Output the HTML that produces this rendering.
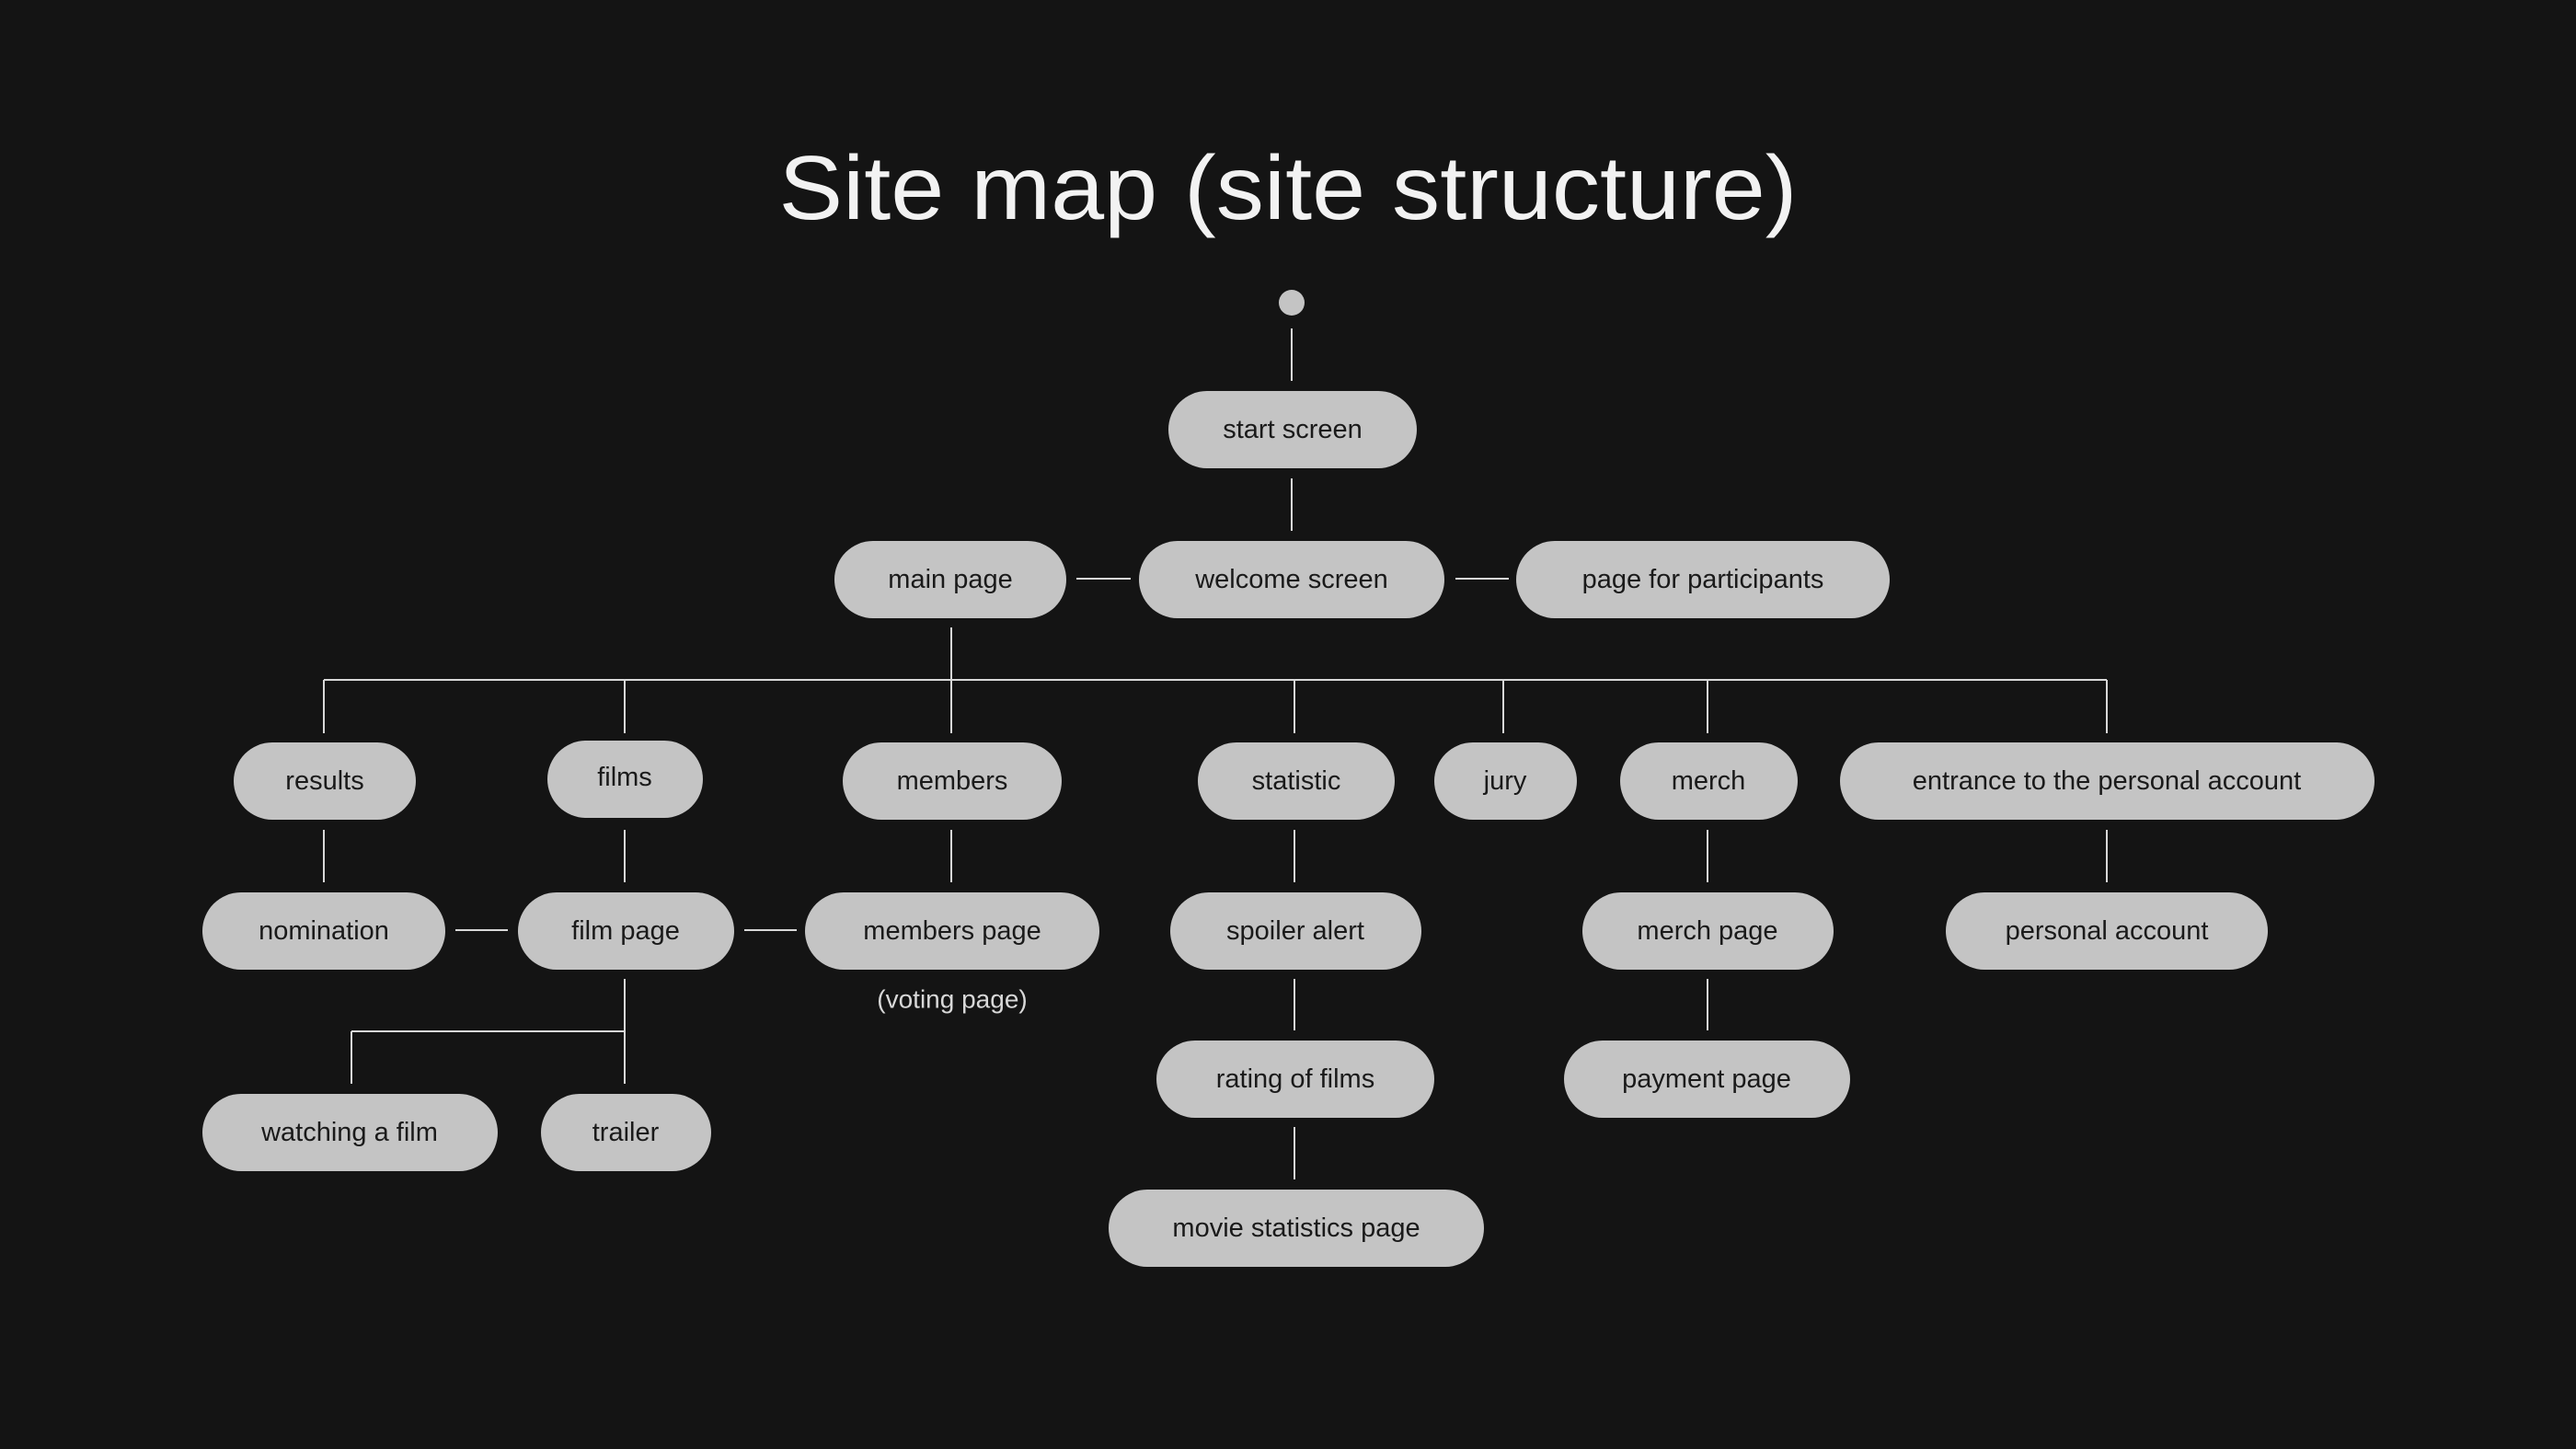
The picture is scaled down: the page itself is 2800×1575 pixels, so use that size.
<!DOCTYPE html>
<html><head><meta charset="utf-8"><style>
html,body{margin:0;padding:0;background:#141414;}
svg{display:block}
text{font-family:"Liberation Sans",sans-serif;}
.n{fill:#c4c4c4}
.t{font-size:29px;fill:#1a1a1a;text-anchor:middle;dominant-baseline:central}
.l{stroke:#d8d8d8;stroke-width:2;fill:none}
</style></head><body>
<svg width="2800" height="1575" viewBox="0 0 2800 1575" xmlns="http://www.w3.org/2000/svg">
<rect width="2800" height="1575" fill="#141414"/>
<text x="1400" y="238" text-anchor="middle" font-size="98" fill="#f2f2f2" textLength="1107" lengthAdjust="spacingAndGlyphs" style="font-weight:300">Site map (site structure)</text>
<circle cx="1404" cy="329" r="14" fill="#c4c4c4"/>
<g class="l">
<path d="M1404 357V414M1404 520V577M1170 629H1229M1582 629H1640"/>
<path d="M1034 682V739M352 739H2290"/>
<path d="M352 739V797M679 739V797M1034 739V797M1407 739V797M1634 739V797M1856 739V797M2290 739V797"/>
<path d="M352 902V959M679 902V959M1034 902V959M1407 902V959M1856 902V959M2290 902V959"/>
<path d="M495 1011H552M809 1011H866"/>
<path d="M679 1064V1178M382 1121H679M382 1121V1178"/>
<path d="M1407 1064V1120M1407 1225V1282M1856 1064V1120"/>
</g>
<g>
<rect class="n" x="1270" y="425" width="270" height="84" rx="42"/><text class="t" x="1405" y="467">start screen</text>
<rect class="n" x="907" y="588" width="252" height="84" rx="42"/><text class="t" x="1033" y="630">main page</text>
<rect class="n" x="1238" y="588" width="332" height="84" rx="42"/><text class="t" x="1404" y="630">welcome screen</text>
<rect class="n" x="1648" y="588" width="406" height="84" rx="42"/><text class="t" x="1851" y="630">page for participants</text>

<rect class="n" x="254" y="807" width="198" height="84" rx="42"/><text class="t" x="353" y="849">results</text>
<rect class="n" x="595" y="805" width="169" height="84" rx="42"/><text class="t" x="679" y="845">films</text>
<rect class="n" x="916" y="807" width="238" height="84" rx="42"/><text class="t" x="1035" y="849">members</text>
<rect class="n" x="1302" y="807" width="214" height="84" rx="42"/><text class="t" x="1409" y="849">statistic</text>
<rect class="n" x="1559" y="807" width="155" height="84" rx="42"/><text class="t" x="1636" y="849">jury</text>
<rect class="n" x="1761" y="807" width="193" height="84" rx="42"/><text class="t" x="1857" y="849">merch</text>
<rect class="n" x="2000" y="807" width="581" height="84" rx="42"/><text class="t" x="2290" y="849">entrance to the personal account</text>

<rect class="n" x="220" y="970" width="264" height="84" rx="42"/><text class="t" x="352" y="1012">nomination</text>
<rect class="n" x="563" y="970" width="235" height="84" rx="42"/><text class="t" x="680" y="1012">film page</text>
<rect class="n" x="875" y="970" width="320" height="84" rx="42"/><text class="t" x="1035" y="1012">members page</text>
<text x="1035" y="1086" font-size="28" fill="#d8d8d8" text-anchor="middle" dominant-baseline="central">(voting page)</text>
<rect class="n" x="1272" y="970" width="273" height="84" rx="42"/><text class="t" x="1408" y="1012">spoiler alert</text>
<rect class="n" x="1720" y="970" width="273" height="84" rx="42"/><text class="t" x="1856" y="1012">merch page</text>
<rect class="n" x="2115" y="970" width="350" height="84" rx="42"/><text class="t" x="2290" y="1012">personal account</text>

<rect class="n" x="1257" y="1131" width="302" height="84" rx="42"/><text class="t" x="1408" y="1173">rating of films</text>
<rect class="n" x="1700" y="1131" width="311" height="84" rx="42"/><text class="t" x="1855" y="1173">payment page</text>

<rect class="n" x="220" y="1189" width="321" height="84" rx="42"/><text class="t" x="380" y="1231">watching a film</text>
<rect class="n" x="588" y="1189" width="185" height="84" rx="42"/><text class="t" x="680" y="1231">trailer</text>

<rect class="n" x="1205" y="1293" width="408" height="84" rx="42"/><text class="t" x="1409" y="1335">movie statistics page</text>
</g>
</svg>
</body></html>
